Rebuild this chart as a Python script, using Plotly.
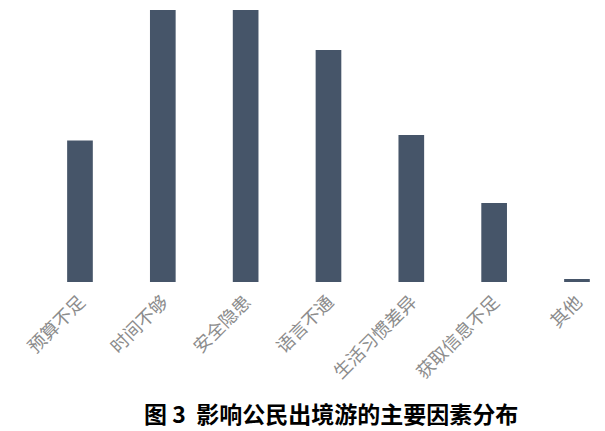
import plotly.graph_objects as go

# 影响公民出境游的主要因素
factors = ["预算不足", "时间不够", "安全隐患", "语言不通", "生活习惯差异", "获取信息不足", "其他"]
shares = [52.0, 100.0, 100.0, 85.3, 54.0, 29.0, 1.1]

bar_color = "#465569"

fig = go.Figure()
fig.add_trace(go.Bar(
    x=factors,
    y=shares,
    marker=dict(color=bar_color, line=dict(width=0)),
    width=0.31,
    hoverinfo="x+y",
))

# the page adds an 8px body margin, so the layout is shifted up/left by 8px
fig.update_layout(
    width=605,
    height=431,
    margin=dict(l=0, r=0, t=0, b=157),
    paper_bgcolor="white",
    plot_bgcolor="white",
    showlegend=False,
    xaxis=dict(
        range=[-0.869, 6.435],
        showgrid=False,
        showline=False,
        zeroline=False,
        ticks="",
        tickangle=-45,
        tickfont=dict(family="Noto Sans CJK SC", size=18, color="#8c8c8c"),
        ticklabelstandoff=5,
    ),
    yaxis=dict(
        range=[0, 100.7],
        visible=False,
    ),
)

fig.add_annotation(
    text="<b>图 3  影响公民出境游的主要因素分布</b>",
    xref="paper", yref="paper",
    x=323 / 605, y=-(405 - 274) / 274,
    xanchor="center", yanchor="middle",
    showarrow=False,
    font=dict(family="Noto Sans CJK SC", size=23, color="black"),
)

fig.write_html("out.html")
